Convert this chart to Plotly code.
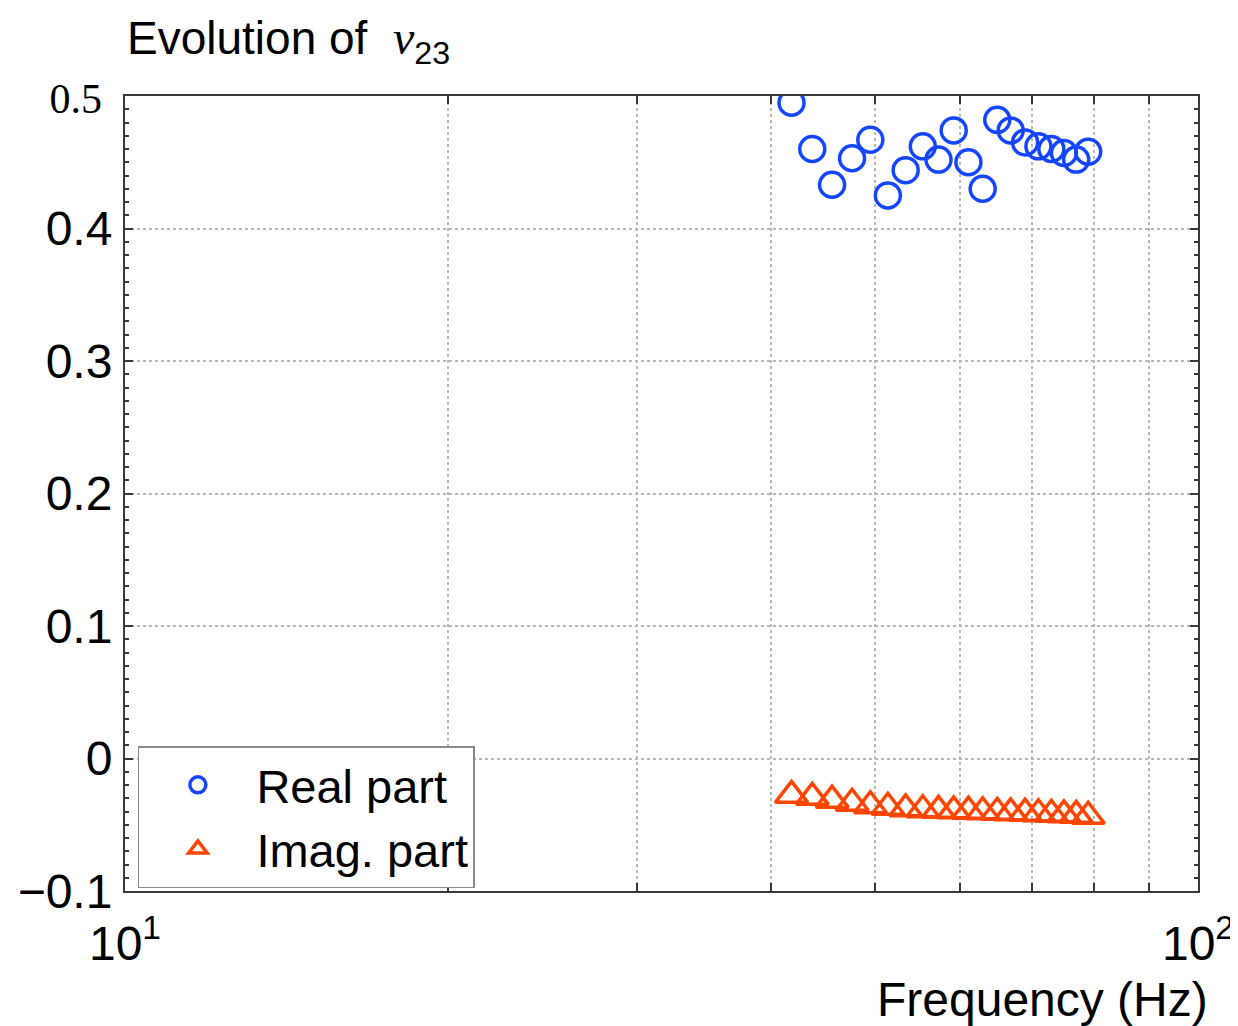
import plotly.graph_objects as go

# frequencies (Hz)
freq = [41.8, 43.7, 45.6, 47.6, 49.5, 51.4, 53.4, 55.4, 57.3, 59.2,
        61.1, 63.0, 65.0, 66.9, 69.0, 71.0, 73.0, 75.0, 77.0, 79.0]

# real part of nu_23
real_part = [0.495, 0.460, 0.433, 0.453, 0.467, 0.425, 0.444, 0.462, 0.452, 0.474,
             0.450, 0.430, 0.482, 0.474, 0.465, 0.462, 0.460, 0.457, 0.452, 0.458]

# imaginary part of nu_23
imag_part = [-0.0278, -0.0293, -0.0315, -0.0338, -0.0357, -0.0368, -0.0380, -0.0387, -0.0391, -0.0395,
             -0.0398, -0.0402, -0.0406, -0.0410, -0.0413, -0.0417, -0.0421, -0.0425, -0.0429, -0.0436]

y_ticks = [-0.1, 0, 0.1, 0.2, 0.3, 0.4, 0.5]
y_ticktext = ['\u22120.1', '0', '0.1', '0.2', '0.3', '0.4',
              "<span style='font-family:Liberation Serif;font-size:42px'>0.5\u00a0</span>"]
x_ticks = [10, 100]
x_ticktext = ['10<sup>1</sup>', '10<sup>2</sup>']
x_minor = [20, 30, 40, 50, 60, 70, 80, 90]

blue = '#1446FF'
orange = '#FF4500'
axcol = '#3a3a3a'
gridcol = '#b8b8b8'

fig = go.Figure()
fig.add_trace(go.Scatter(x=freq, y=real_part, mode='markers', name='Real part',
                         marker=dict(symbol='circle-open', size=25, color=blue,
                                     line=dict(width=3.5, color=blue))))
fig.add_trace(go.Scatter(x=freq, y=imag_part, mode='markers', name='Imag. part',
                         marker=dict(symbol='triangle-up-open', size=28, color=orange,
                                     line=dict(width=3.5, color=orange))))

# page body has an 8px margin, so the margins are shifted accordingly
fig.update_layout(
    width=1238, height=1026,
    margin=dict(l=117, r=48, t=88, b=143),
    plot_bgcolor='white', paper_bgcolor='white',
    font=dict(family='Liberation Sans, Arial, sans-serif', color='black', size=44),
    showlegend=True,
    legend=dict(x=0.012, y=0.182, xanchor='left', yanchor='top',
                bgcolor='white', bordercolor='#8a8a8a', borderwidth=1.5,
                font=dict(size=47), itemsizing='trace', itemwidth=107, tracegroupgap=0),
)

fig.update_xaxes(
    type='log', range=[1, 2], automargin=False,
    tickvals=x_ticks, ticktext=x_ticktext,
    tickfont=dict(size=48), ticks='inside', ticklen=8, tickcolor=axcol, tickwidth=1.5,
    ticklabelstandoff=9,
    showgrid=False, zeroline=False,
    showline=True, linecolor=axcol, linewidth=2, mirror='ticks',
    minor=dict(tickvals=x_minor, ticks='inside', ticklen=8, tickcolor=axcol,
               showgrid=True, gridcolor=gridcol, griddash='dot', gridwidth=1.5),
)
fig.update_yaxes(
    range=[-0.1, 0.5], automargin=False,
    tickvals=y_ticks, ticktext=y_ticktext,
    tickfont=dict(size=48), ticks='inside', ticklen=8, tickcolor=axcol, tickwidth=1.5,
    ticklabelstandoff=1,
    showgrid=True, gridcolor=gridcol, griddash='dot', gridwidth=1.5,
    zeroline=False,
    showline=True, linecolor=axcol, linewidth=2, mirror='ticks',
    minor=dict(dtick=0.01, ticks='inside', ticklen=4, tickcolor=axcol, showgrid=False),
)

# title
fig.add_annotation(
    text="Evolution of  <span style='font-family:Liberation Serif;font-size:48px'><i>\u03bd</i></span><sub>23</sub>",
    xref='paper', yref='paper', x=0, y=1.110, xanchor='left', yanchor='top',
    showarrow=False, font=dict(size=46),
)
# x axis label
fig.add_annotation(
    text='Frequency (Hz)', xref='paper', yref='paper', x=1.011, y=-0.136,
    xanchor='right', yanchor='middle', showarrow=False, font=dict(size=48),
)

fig.write_html("out.html")
